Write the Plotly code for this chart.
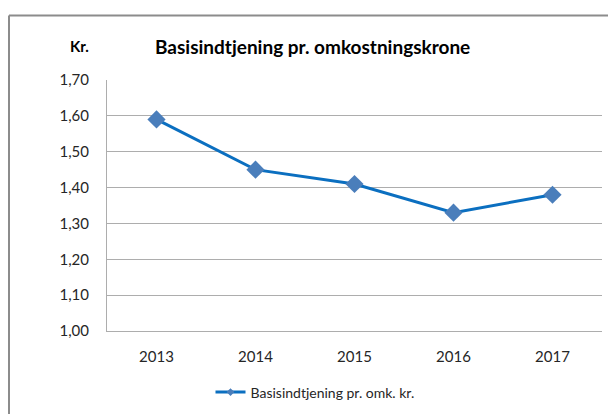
import plotly.graph_objects as go

years = ["2013", "2014", "2015", "2016", "2017"]
values = [1.59, 1.45, 1.41, 1.33, 1.38]
y_ticks = [1.00, 1.10, 1.20, 1.30, 1.40, 1.50, 1.60, 1.70]
y_tick_labels = ["1,00", "1,10", "1,20", "1,30", "1,40", "1,50", "1,60", "1,70"]
series_name = "Basisindtjening pr. omk. kr."
title_text = "Basisindtjening pr. omkostningskrone"
unit_text = "Kr."

FONT = "Lato, 'Open Sans', sans-serif"

L, R, T, B = 107, 6, 80, 81
W, H = 608, 414
pw = W - L - R
ph = H - T - B

def px(x):
    return (x - L) / pw

def py(y):
    return (H - B - y) / ph

LINE_C = "#0B6FC0"
MARK_C = "#4A7EBB"

fig = go.Figure()
fig.add_trace(go.Scatter(
    x=years, y=values, name=series_name, mode="lines+markers",
    line=dict(color=LINE_C, width=3),
    marker=dict(symbol="diamond", size=14, color=MARK_C),
    showlegend=False,
))
# legend entry with a small marker (no data)
fig.add_trace(go.Scatter(
    x=[None], y=[None], name=series_name, mode="lines+markers",
    line=dict(color=LINE_C, width=3),
    marker=dict(symbol="diamond", size=6, color=MARK_C),
    showlegend=True,
))

fig.update_layout(
    width=W, height=H,
    margin=dict(l=L, r=R, t=T, b=B),
    paper_bgcolor="white", plot_bgcolor="white",
    font=dict(family=FONT, size=15, color="#262626"),
    showlegend=True,
    legend=dict(orientation="h", x=px(315), xanchor="center", y=py(395), yanchor="middle",
                font=dict(size=14, color="#262626"), bgcolor="rgba(0,0,0,0)"),
    xaxis=dict(type="category", range=[-0.5, 4.5], showgrid=False,
               showline=True, linecolor="#ADADAD", linewidth=1,
               ticks="", ticklabelstandoff=12, fixedrange=True,
               tickfont=dict(size=15)),
    yaxis=dict(range=[1.0, 1.7], tickvals=y_ticks, ticktext=y_tick_labels,
               showgrid=True, gridcolor="#ADADAD", gridwidth=1,
               showline=True, linecolor="#ADADAD", linewidth=1,
               ticks="", ticklabelstandoff=14, zeroline=False, fixedrange=True,
               tickfont=dict(size=15)),
    annotations=[
        dict(text="<b>" + title_text + "</b>", xref="paper", yref="paper",
             x=px(312), y=py(46), xanchor="center", yanchor="middle",
             showarrow=False, font=dict(family=FONT, size=19, color="#000000")),
        dict(text="<b>" + unit_text + "</b>", xref="paper", yref="paper",
             x=px(79), y=py(46), xanchor="center", yanchor="middle",
             showarrow=False, font=dict(family=FONT, size=15, color="#000000")),
    ],
    shapes=[
        dict(type="line", xref="paper", yref="paper", x0=px(9), x1=px(620), y0=py(15), y1=py(15),
             line=dict(color="#8C8C8C", width=2)),
        dict(type="line", xref="paper", yref="paper", x0=px(9), x1=px(9), y0=py(15), y1=py(430),
             line=dict(color="#8C8C8C", width=2)),
    ],
)

fig.write_html("out.html", config={"displayModeBar": False},
               post_script="document.body.style.margin='0';document.body.style.overflow='hidden';")
